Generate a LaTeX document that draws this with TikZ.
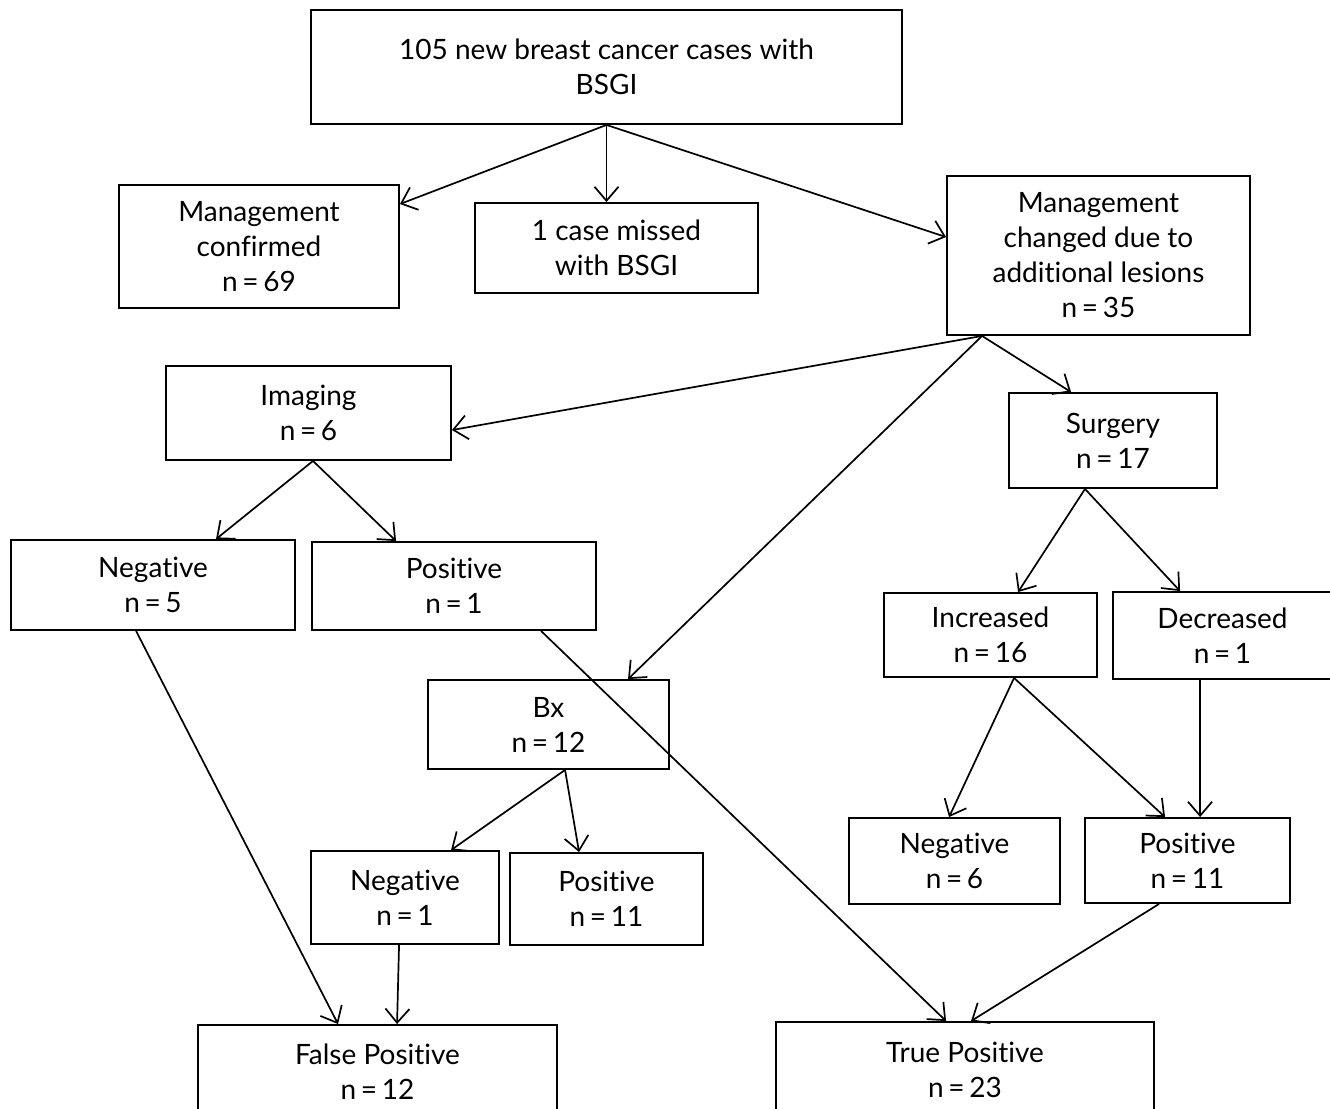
\documentclass[tikz,border=0pt]{standalone}
\usepackage{fontspec}
\setmainfont{Lato}[Ligatures=NoCommon]
\usetikzlibrary{arrows.meta}
\begin{document}
\begin{tikzpicture}[x=1pt,y=-1pt,
  box/.style={draw,line width=1.9pt,rectangle,inner sep=0pt,align=center,
    font=\fontsize{28}{35}\selectfont},
  arr/.style={line width=1.7pt,-{Straight Barb[length=14pt,width=24pt]}}]
\useasboundingbox (0,0) rectangle (1330,1108);
\clip (0,0) rectangle (1330,1108);
\node[box,minimum width=591pt,minimum height=114pt] (top) at (606.5,67) {105 new breast cancer cases with\\BSGI};
\node[box,minimum width=280pt,minimum height=123pt] (conf) at (259,246.5) {Management\\confirmed\\n\,=\,69};
\node[box,minimum width=283pt,minimum height=90pt] (missed) at (616.5,248) {1 case missed\\with BSGI};
\node[box,minimum width=303pt,minimum height=159pt] (changed) at (1098.5,255.5) {Management\\changed due to\\additional lesions\\n\,=\,35};
\node[box,minimum width=285pt,minimum height=94pt] (imaging) at (308.5,413) {Imaging\\n\,=\,6};
\node[box,minimum width=208pt,minimum height=95pt] (surgery) at (1113,440.5) {Surgery\\n\,=\,17};
\node[box,minimum width=284pt,minimum height=90pt] (neg1) at (153,585) {Negative\\n\,=\,5};
\node[box,minimum width=284pt,minimum height=88pt] (pos1) at (454,586) {Positive\\n\,=\,1};
\node[box,minimum width=241pt,minimum height=89pt] (bx) at (548.5,724.5) {Bx\\n\,=\,12};
\node[box,minimum width=213pt,minimum height=84pt] (inc) at (990.5,635) {Increased\\n\,=\,16};
\node[box,minimum width=219pt,minimum height=87pt] (dec) at (1222.5,635.5) {Decreased\\n\,=\,1};
\node[box,minimum width=188pt,minimum height=93pt] (neg2) at (405,897.5) {Negative\\n\,=\,1};
\node[box,minimum width=193pt,minimum height=92pt] (pos2) at (606.5,899) {Positive\\n\,=\,11};
\node[box,minimum width=211pt,minimum height=86pt] (neg3) at (954.5,861) {Negative\\n\,=\,6};
\node[box,minimum width=205pt,minimum height=85pt] (pos3) at (1187.5,860.5) {Positive\\n\,=\,11};
\node[box,minimum width=359pt,minimum height=94pt] (fp) at (377.5,1072) {False Positive\\n\,=\,12};
\node[box,minimum width=378pt,minimum height=95pt] (tp) at (965,1069.5) {True Positive\\n\,=\,23};
% connectors
\draw[arr] (top.south) -- ([yshift=-20pt]conf.north east);
\draw[arr] (top.south) -- (top.south |- missed.north);
\draw[arr] (top.south) -- ([yshift=-62pt]changed.north west);
\draw[arr] ([xshift=36pt]changed.south west) -- ([yshift=-65pt]imaging.north east);
\draw[arr] ([xshift=36pt]changed.south west) -- ([xshift=201pt]bx.north west);
\draw[arr] ([xshift=36pt]changed.south west) -- ([xshift=63pt]surgery.north west);
\draw[arr] ([xshift=4.5pt]imaging.south) -- ([xshift=206pt]neg1.north west);
\draw[arr] ([xshift=4.5pt]imaging.south) -- ([xshift=85pt]pos1.north west);
\draw[arr] ([xshift=-28pt]surgery.south) -- ([xshift=135pt]inc.north west);
\draw[arr] ([xshift=-28pt]surgery.south) -- ([xshift=68pt]dec.north west);
\draw[arr] ([xshift=126pt]neg1.south west) -- ([xshift=141pt]fp.north west);
\draw[arr] ([xshift=230pt]pos1.south west) -- ([xshift=171pt]tp.north west);
\draw[arr] ([xshift=138pt]bx.south west) -- ([xshift=141pt]neg2.north west);
\draw[arr] ([xshift=138pt]bx.south west) -- ([xshift=70pt]pos2.north west);
\draw[arr] ([xshift=89pt]neg2.south west) -- ([xshift=200pt]fp.north west);
\draw[arr] ([xshift=131pt]inc.south west) -- ([xshift=101pt]neg3.north west);
\draw[arr] ([xshift=131pt]inc.south west) -- ([xshift=81pt]pos3.north west);
\draw[arr] ([xshift=88pt]dec.south west) -- ([xshift=116pt]pos3.north west);
\draw[arr] ([xshift=75pt]pos3.south west) -- ([xshift=196pt]tp.north west);
\end{tikzpicture}
\end{document}
